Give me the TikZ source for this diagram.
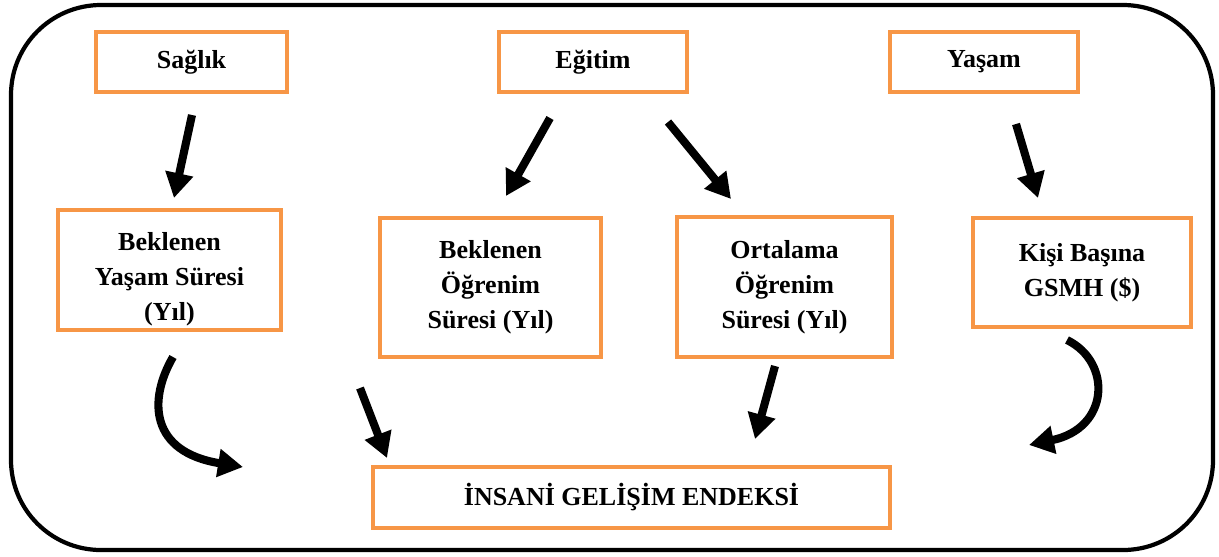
\documentclass[tikz,border=0pt]{standalone}
\usepackage{fontspec}
\setmainfont{Liberation Serif}
\usetikzlibrary{arrows.meta}
\definecolor{boxorange}{RGB}{247,150,70}
\tikzset{
  box/.style={draw=boxorange, line width=2.3pt, fill=white, align=center,
    font=\fontsize{14.8}{19.9}\selectfont\bfseries, inner sep=0pt},
  bigarrow/.style={line width=4.6pt, draw=black,
    -{Triangle[width=0.54cm,length=0.5cm]}}
}
\begin{document}
\begin{tikzpicture}[x=0.02cm,y=-0.02cm]
      \useasboundingbox (0,0) rectangle (1219,556);
      \draw[line width=2.4pt, rounded corners=1.8cm] (11,5) rectangle (1213,550);
      \node[box, minimum width=3.82cm, minimum height=1.2cm] (saglik) at (191.5,62) {Sağlık};
      \node[box, minimum width=3.76cm, minimum height=1.2cm] (egitim) at (593,62) {Eğitim};
      \node[box, minimum width=3.76cm, minimum height=1.2cm] (yasam) at (984,62) {Yaşam};
      \node[box, minimum width=4.46cm, minimum height=2.4cm] (bys) at (169.5,270)
        {\raisebox{-0.17cm}[\height][\depth]{\begin{tabular}{@{}c@{}}Beklenen\\Yaşam Süresi\\(Yıl)\end{tabular}}};
      \node[box, minimum width=4.42cm, minimum height=2.78cm] (bos) at (490.5,287.5) {Beklenen\\Öğrenim\\Süresi (Yıl)};
      \node[box, minimum width=4.3cm, minimum height=2.8cm] (oos) at (784.5,287) {Ortalama\\Öğrenim\\Süresi (Yıl)};
      \node[box, minimum width=4.36cm, minimum height=2.18cm] (gsmh) at (1082,272.5) {Kişi Başına\\GSMH (\$)};
      \node[box, minimum width=10.34cm, minimum height=1.22cm] (igE) at (631.5,497.5) {İNSANİ GELİŞİM ENDEKSİ};
      \coordinate (s1) at (192,115);  \coordinate (t1) at (174,198);
      \coordinate (s2) at (550,118);  \coordinate (t2) at (506,196);
      \coordinate (s3) at (668,122);  \coordinate (t3) at (731,199);
      \coordinate (s4) at (1016,124); \coordinate (t4) at (1038,198);
      \coordinate (s5) at (173,357);  \coordinate (t5) at (243,467);
      \coordinate (s6) at (360,388);  \coordinate (t6) at (387,458);
      \coordinate (s7) at (775,366);  \coordinate (t7) at (755,439);
      \coordinate (s8) at (1067,340); \coordinate (t8) at (1029,445);
      \begin{scope}[bigarrow]
        \draw (s1) -- (t1);
        \draw (s2) -- (t2);
        \draw (s3) -- (t3);
        \draw (s4) -- (t4);
        \draw (s5) .. controls (148,400) and (150,452) .. (t5);
        \draw (s6) -- (t6);
        \draw (s7) -- (t7);
        \draw (s8) .. controls (1112,362) and (1110,428) .. (t8);
      \end{scope}
    \end{tikzpicture}
\end{document}
